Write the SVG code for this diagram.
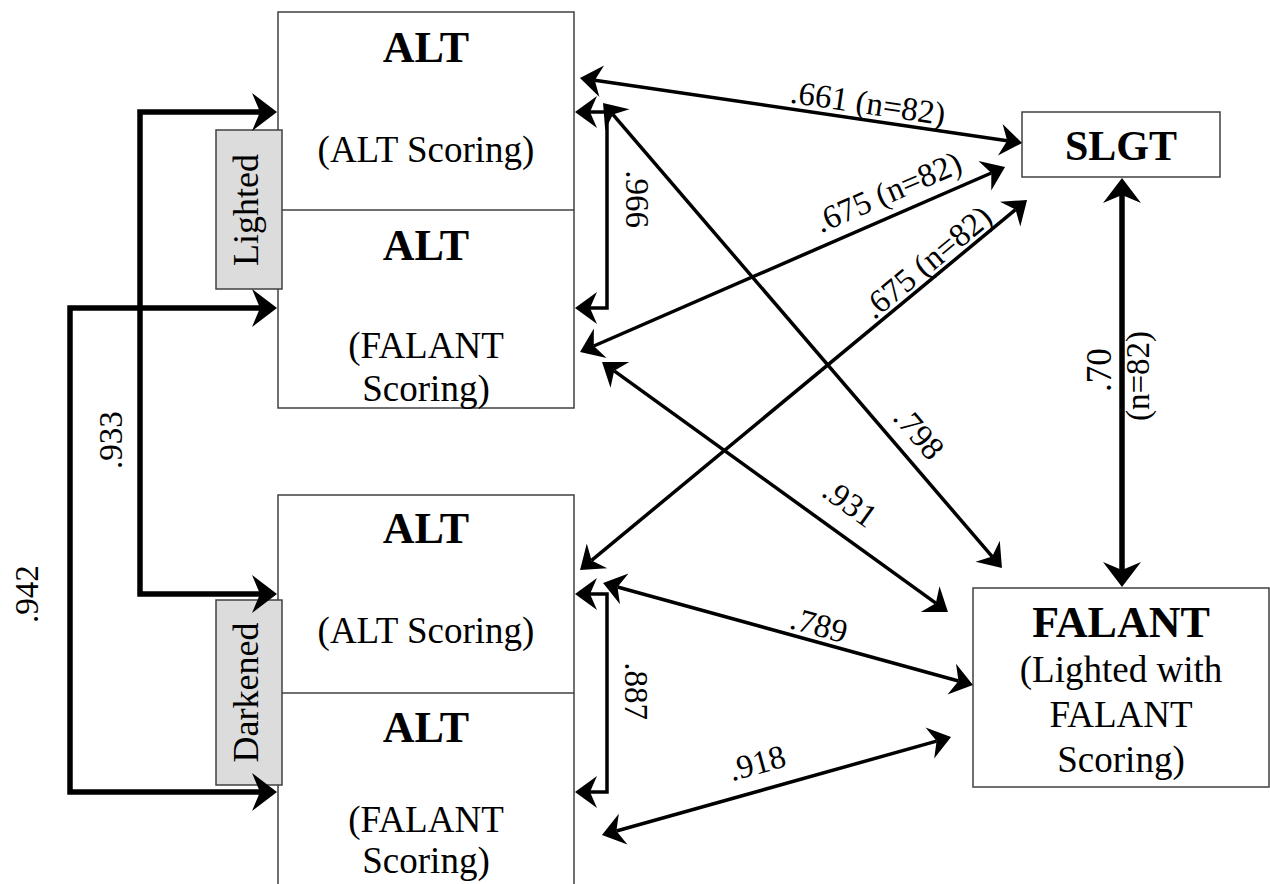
<svg xmlns="http://www.w3.org/2000/svg" width="1270" height="884" viewBox="0 0 1270 884">
<style>
text{font-family:"Liberation Serif","Times New Roman",serif;fill:#000}
.b{font-weight:bold;font-size:44px;text-anchor:middle}
.r{font-size:37px;text-anchor:middle}
.t{font-size:36px;text-anchor:middle}
.l{font-size:33px;text-anchor:middle}
.box{fill:#fff;stroke:#404040;stroke-width:1.5}
.div{stroke:#404040;stroke-width:1.5;fill:none}
.tag{fill:#dcdcdc;stroke:#404040;stroke-width:1.5}
.thick{fill:none;stroke:#000;stroke-width:5.5;marker-start:url(#hk);marker-end:url(#hk)}
.thin{fill:none;stroke:#000;stroke-width:3.5;marker-start:url(#hn);marker-end:url(#hn)}
</style>
<defs>
<marker id="hk" viewBox="-9 -20 27 40" refX="0" refY="0" markerWidth="27" markerHeight="40" markerUnits="userSpaceOnUse" orient="auto-start-reverse">
<path d="M17,0 L-8,-19 L0,0 L-8,19 Z" fill="#000"/>
</marker>
<marker id="hn" viewBox="-8 -17 24 34" refX="0" refY="0" markerWidth="24" markerHeight="34" markerUnits="userSpaceOnUse" orient="auto-start-reverse">
<path d="M15,0 L-7,-16 L0,0 L-7,16 Z" fill="#000"/>
</marker>
</defs>

<g id="alt-lighted">
<rect class="box" x="278" y="12" width="296" height="396"/>
<line class="div" x1="278" y1="210" x2="574" y2="210"/>
<text class="b" x="426" y="62">ALT</text>
<text class="r" x="426" y="162">(ALT Scoring)</text>
<text class="b" x="426" y="260">ALT</text>
<text class="r" x="426" y="358">(FALANT</text>
<text class="r" x="426" y="401">Scoring)</text>
</g>
<g id="tag-lighted">
<rect class="tag" x="216" y="130" width="66" height="159"/>
<text class="t" transform="translate(249,210) rotate(-90)" y="9">Lighted</text>
</g>

<g id="alt-darkened">
<rect class="box" x="278" y="495" width="296" height="400"/>
<line class="div" x1="278" y1="693" x2="574" y2="693"/>
<text class="b" x="426" y="543">ALT</text>
<text class="r" x="426" y="643">(ALT Scoring)</text>
<text class="b" x="426" y="742">ALT</text>
<text class="r" x="426" y="832">(FALANT</text>
<text class="r" x="426" y="873">Scoring)</text>
</g>
<g id="tag-darkened">
<rect class="tag" x="216" y="600" width="66" height="185"/>
<text class="t" transform="translate(249,692.5) rotate(-90)" y="9">Darkened</text>
</g>

<g id="slgt">
<rect class="box" x="1022" y="112" width="198" height="65"/>
<text class="b" style="font-size:42px" x="1121" y="160">SLGT</text>
</g>

<g id="falant">
<rect class="box" x="973" y="588" width="296" height="199"/>
<text class="b" x="1121" y="637">FALANT</text>
<text class="r" x="1121" y="682">(Lighted with</text>
<text class="r" x="1121" y="727">FALANT</text>
<text class="r" x="1121" y="772">Scoring)</text>
</g>

<g id="connectors">
<polyline class="thick" points="260,112 140,112 140,594 260,594"/>
<polyline class="thick" points="260,308 70,308 70,792 260,792"/>
<line class="thick" x1="1122" y1="195" x2="1122" y2="570"/>
<polyline class="thin" points="590,112 607,112 607,308 590,308"/>
<polyline class="thin" points="590,594 607,594 607,792 590,792"/>
<line class="thin" x1="594.8" y1="80.2" x2="1007.2" y2="140.8"/>
<line class="thin" x1="593.8" y1="346" x2="991.3" y2="173"/>
<line class="thin" x1="591.6" y1="560.4" x2="1015.5" y2="209.6"/>
<line class="thin" x1="612.8" y1="114.4" x2="992.2" y2="556.6"/>
<line class="thin" x1="614.2" y1="370.8" x2="935.8" y2="603.2"/>
<line class="thin" x1="617.5" y1="587" x2="958.5" y2="681"/>
<line class="thin" x1="616.4" y1="831" x2="936.6" y2="741.1"/>

<text class="l" transform="translate(122,440) rotate(-90)">.933</text>
<text class="l" transform="translate(38,594) rotate(-90)">.942</text>
<text class="l" transform="translate(626,199) rotate(90)">.966</text>
<text class="l" transform="translate(625,691) rotate(90)">.887</text>
<text class="l" style="font-size:35px" transform="translate(1111,370) rotate(-90)">.70</text>
<text class="l" transform="translate(1149,376) rotate(-90)">(n=82)</text>
<text class="l" transform="translate(868,103) rotate(8.4)" y="11">.661 (n=82)</text>
<text class="l" transform="translate(888,192) rotate(-23.5)" y="11">.675 (n=82)</text>
<text class="l" transform="translate(927,262) rotate(-39.6)" y="11">.675 (n=82)</text>
<text class="l" transform="translate(919,433) rotate(49.4)" y="11">.798</text>
<text class="l" transform="translate(850,503) rotate(36)" y="11">.931</text>
<text class="l" transform="translate(819,625) rotate(15.4)" y="11">.789</text>
<text class="l" transform="translate(757,763) rotate(-15.2)" y="11">.918</text>
</g>
</svg>
